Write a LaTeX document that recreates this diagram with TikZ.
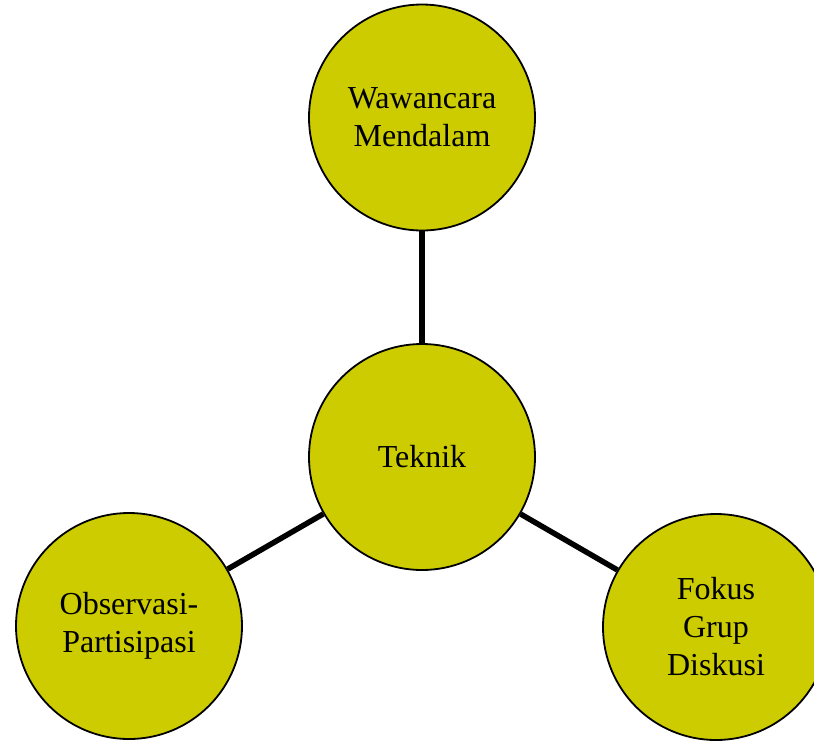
\documentclass[tikz,border=0pt]{standalone}
\usepackage{fontspec}
\setmainfont{Liberation Serif}
\definecolor{olivefill}{RGB}{204,204,0}
\tikzset{
  bubble/.style={circle, draw=black, line width=1.8pt, fill=olivefill,
    minimum size=226pt, inner sep=0pt, align=center,
    font=\fontsize{32}{38}\selectfont},
  link/.style={line width=5.5pt, draw=black}
}
\begin{document}
\begin{tikzpicture}[x=1pt,y=-1pt]
\path[use as bounding box] (0,0) rectangle (814,740);
\clip (0,0) rectangle (814,740);
\node[bubble] (w) at (422,117.5) {Wawancara\\Mendalam};
\node[bubble] (t) at (422,457) {Teknik};
\node[bubble] (o) at (129,626) {Observasi-\\Partisipasi};
\node[bubble] (f) at (716,627) {Fokus\\Grup\\Diskusi};
\draw[link] (t) -- (w);
\draw[link] (t) -- (o);
\draw[link] (t) -- (f);
\end{tikzpicture}
\end{document}
